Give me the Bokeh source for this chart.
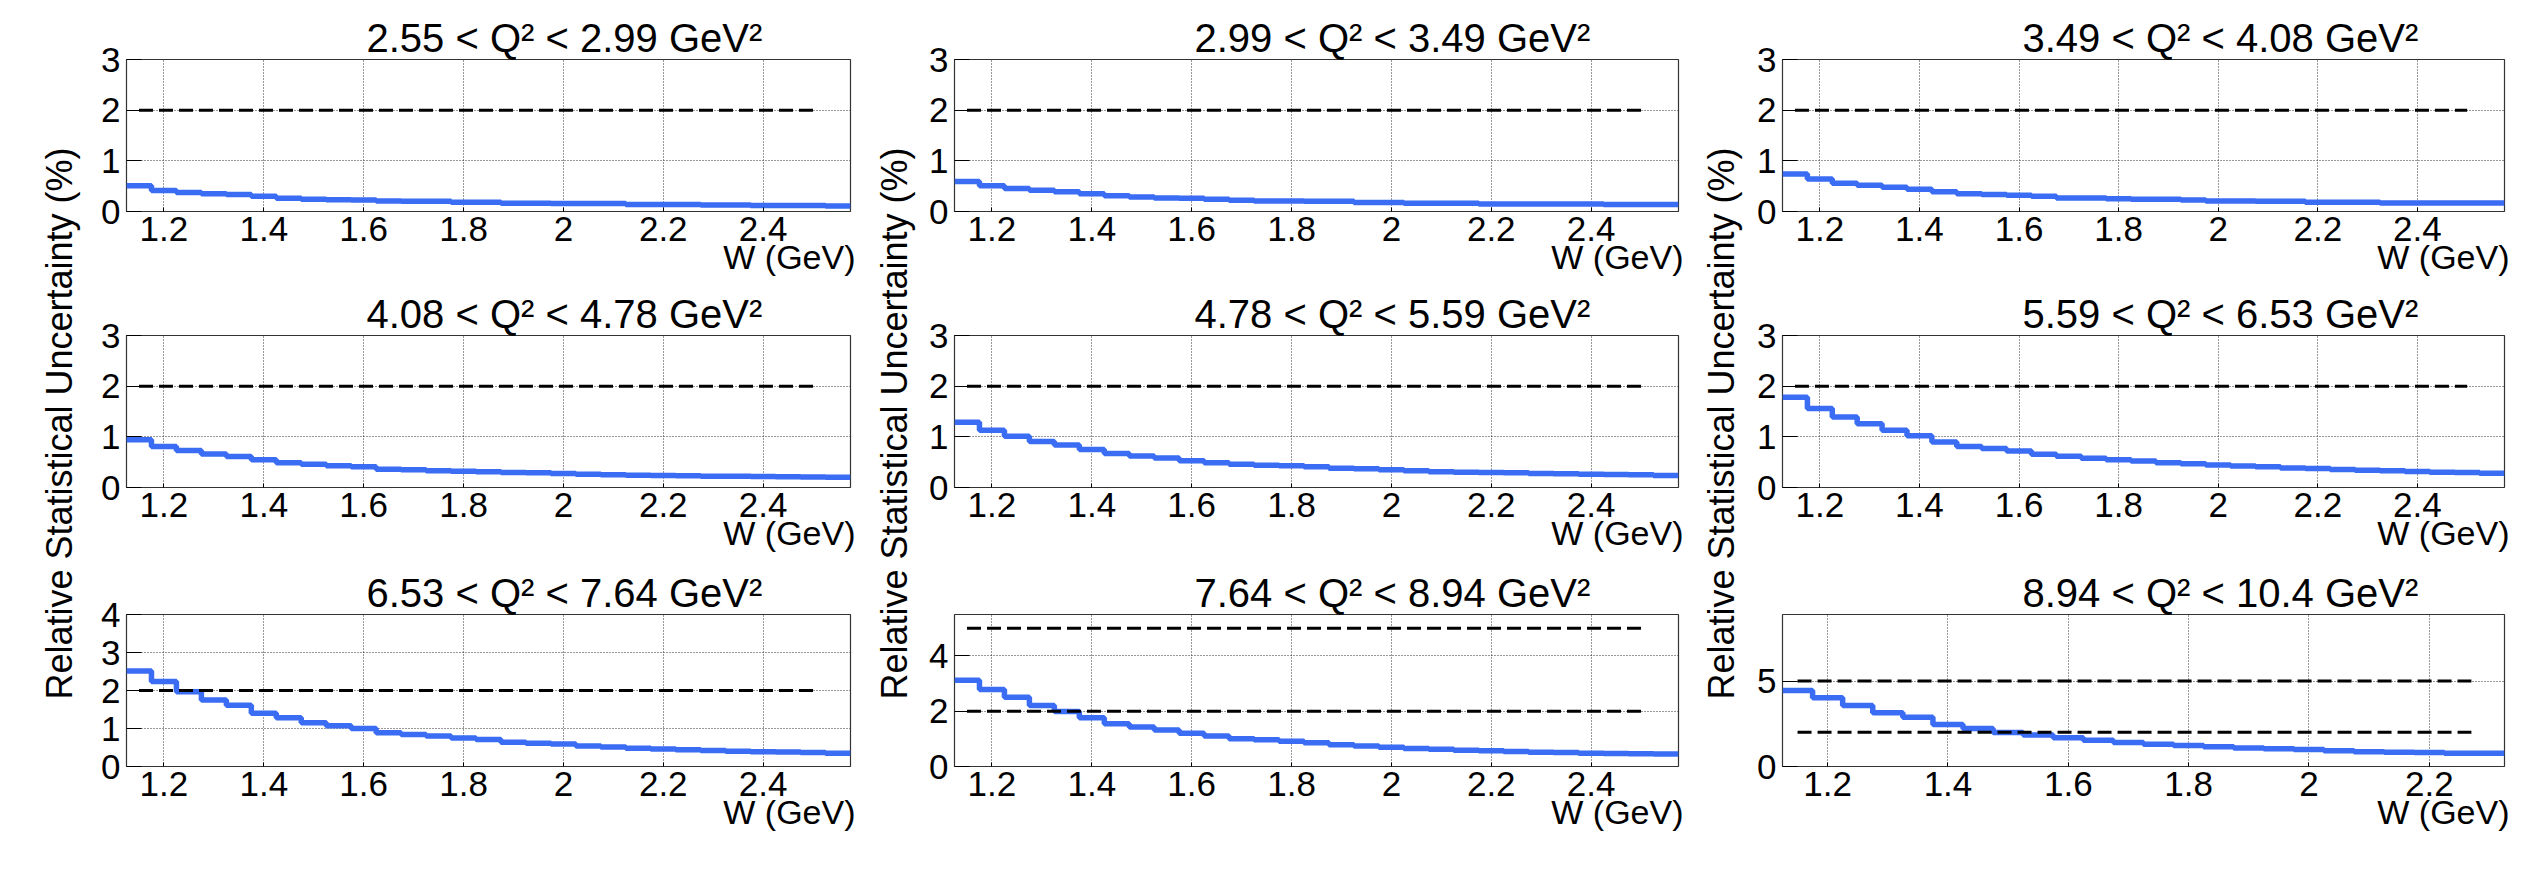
from math import pi
from bokeh.plotting import figure
from bokeh.models import Range1d, FixedTicker, Label, Title
from bokeh.layouts import row, column
from bokeh.embed import file_html
from bokeh.resources import INLINE

# ---------------- data ----------------
W_EDGES = [1.125, 1.175, 1.225, 1.275, 1.325, 1.375, 1.425, 1.475, 1.525, 1.575,
           1.625, 1.675, 1.725, 1.775, 1.825, 1.875, 1.925, 1.975, 2.025, 2.075,
           2.125, 2.175, 2.225, 2.275, 2.325, 2.375, 2.425, 2.475, 2.525, 2.575]

TITLES = ["2.55 < Q\u00b2 < 2.99 GeV\u00b2", "2.99 < Q\u00b2 < 3.49 GeV\u00b2",
          "3.49 < Q\u00b2 < 4.08 GeV\u00b2", "4.08 < Q\u00b2 < 4.78 GeV\u00b2",
          "4.78 < Q\u00b2 < 5.59 GeV\u00b2", "5.59 < Q\u00b2 < 6.53 GeV\u00b2",
          "6.53 < Q\u00b2 < 7.64 GeV\u00b2", "7.64 < Q\u00b2 < 8.94 GeV\u00b2",
          "8.94 < Q\u00b2 < 10.4 GeV\u00b2"]

UNC_1 = [0.51, 0.415, 0.375, 0.35, 0.335, 0.30, 0.26, 0.24, 0.23, 0.225, 0.205, 0.20, 0.20,
         0.185, 0.185, 0.165, 0.165, 0.16, 0.16, 0.16, 0.14, 0.14, 0.14, 0.13, 0.13, 0.12,
         0.12, 0.12, 0.11]
UNC_2 = [0.59, 0.51, 0.455, 0.42, 0.39, 0.35, 0.31, 0.285, 0.265, 0.26, 0.24, 0.22, 0.205,
         0.205, 0.20, 0.20, 0.18, 0.18, 0.165, 0.165, 0.165, 0.15, 0.15, 0.15, 0.15, 0.15,
         0.14, 0.14, 0.14]
UNC_3 = [0.74, 0.64, 0.56, 0.52, 0.48, 0.44, 0.39, 0.35, 0.335, 0.32, 0.30, 0.265, 0.265,
         0.25, 0.24, 0.24, 0.225, 0.205, 0.205, 0.20, 0.20, 0.185, 0.185, 0.185, 0.17, 0.17,
         0.17, 0.17, 0.17]
UNC_4 = [0.94, 0.81, 0.73, 0.66, 0.61, 0.55, 0.49, 0.46, 0.43, 0.41, 0.36, 0.35, 0.33, 0.32,
         0.31, 0.295, 0.29, 0.275, 0.26, 0.25, 0.24, 0.235, 0.23, 0.22, 0.22, 0.215, 0.21,
         0.205, 0.20]
UNC_5 = [1.29, 1.13, 1.01, 0.91, 0.84, 0.75, 0.67, 0.62, 0.58, 0.53, 0.49, 0.46, 0.44, 0.43,
         0.41, 0.38, 0.37, 0.35, 0.33, 0.31, 0.30, 0.295, 0.29, 0.275, 0.27, 0.26, 0.255,
         0.25, 0.235]
UNC_6 = [1.78, 1.56, 1.39, 1.26, 1.13, 1.02, 0.90, 0.81, 0.77, 0.72, 0.655, 0.615, 0.575,
         0.55, 0.525, 0.49, 0.47, 0.445, 0.425, 0.41, 0.385, 0.375, 0.355, 0.34, 0.33, 0.315,
         0.30, 0.295, 0.28]
UNC_7 = [2.51, 2.24, 1.97, 1.75, 1.61, 1.40, 1.28, 1.15, 1.07, 1.00, 0.89, 0.84, 0.80, 0.75,
         0.71, 0.64, 0.61, 0.59, 0.54, 0.51, 0.48, 0.46, 0.44, 0.42, 0.40, 0.39, 0.38, 0.37,
         0.35]
UNC_8 = [3.12, 2.79, 2.51, 2.21, 1.99, 1.76, 1.55, 1.43, 1.32, 1.20, 1.10, 1.00, 0.97, 0.91,
         0.86, 0.79, 0.74, 0.70, 0.65, 0.62, 0.59, 0.57, 0.54, 0.52, 0.51, 0.48, 0.47, 0.46,
         0.45]
UNC_9 = [4.45, 4.02, 3.57, 3.14, 2.89, 2.46, 2.23, 1.99, 1.84, 1.68, 1.54, 1.41, 1.31, 1.23,
         1.15, 1.09, 1.04, 1.00, 0.92, 0.86, 0.84, 0.82, 0.78, 0.78]
UNCS = [UNC_1, UNC_2, UNC_3, UNC_4, UNC_5, UNC_6, UNC_7, UNC_8, UNC_9]

LIMIT_LEVELS = [[2], [2], [2], [2], [2], [2], [2], [2, 5], [2, 5]]
LIMIT_X_START = 1.15
LIMIT_X_END = [2.5, 2.5, 2.5, 2.5, 2.5, 2.5, 2.5, 2.5, 2.27]

Y_MAX = [3, 3, 3, 3, 3, 3, 4, 5.5, 8.9]
Y_TICKS = [[0, 1, 2, 3]] * 6 + [[0, 1, 2, 3, 4], [0, 2, 4], [0, 5]]
X_TICKS_A = [1.2, 1.4, 1.6, 1.8, 2.0, 2.2, 2.4]
X_TICKS_B = [1.2, 1.4, 1.6, 1.8, 2.0, 2.2]
X_TICK_LABELS = {1.2: "1.2", 1.4: "1.4", 1.6: "1.6", 1.8: "1.8", 2.0: "2", 2.2: "2.2", 2.4: "2.4"}

Y_LABEL = "Relative Statistical Uncertainty (%)"
X_LABEL = "W (GeV)"

# ---------------- style / layout ----------------
FONT = "Liberation Sans"
BLUE = "#3b6cf4"

COL_W = [790, 780, 784]
COL_BL = [44, 37, 38]
COL_BR = [22, 19, 24]
ROW_H = [283, 276, 297]
ROW_BT = [59, 52, 55]
ROW_BB = [72, 72, 90]
LAB_W = [82, 45, 47]
LAB_X = [59, 22, 24]
LAB_Y = 433
TITLE_OFFSET = 240


def make_panel(i):
    r, c = divmod(i, 3)
    n = len(UNCS[i])
    x_end = W_EDGES[n]
    p = figure(width=COL_W[c], height=ROW_H[r],
               x_range=Range1d(W_EDGES[0], x_end), y_range=Range1d(0, Y_MAX[i]),
               min_border_left=COL_BL[c], min_border_right=COL_BR[c],
               min_border_top=ROW_BT[r], min_border_bottom=ROW_BB[r],
               output_backend="svg", toolbar_location=None)
    p.title = Title(text=TITLES[i], align="left", offset=TITLE_OFFSET, standoff=0,
                    text_font=FONT, text_font_size="40px", text_font_style="normal",
                    text_color="black")
    p.background_fill_color = "white"
    p.border_fill_color = "white"
    p.outline_line_color = "#333333"
    p.outline_line_width = 1.2

    xt = X_TICKS_B if i == 8 else X_TICKS_A
    p.xaxis.ticker = FixedTicker(ticks=xt)
    p.xaxis.major_label_overrides = {t: X_TICK_LABELS[t] for t in xt}
    p.yaxis.ticker = FixedTicker(ticks=Y_TICKS[i])
    for ax in (p.xaxis[0], p.yaxis[0]):
        ax.axis_line_color = None
        ax.major_tick_out = 0
        ax.minor_tick_in = 0
        ax.minor_tick_out = 0
        ax.major_tick_line_color = "black"
        ax.major_label_text_font = FONT
        ax.major_label_text_font_size = "35px"
        ax.major_label_text_color = "black"
    p.yaxis.major_tick_in = 15
    p.xaxis.major_tick_in = 4
    p.yaxis.major_label_standoff = 6
    p.xaxis.major_label_standoff = 5

    # x-axis title, right-aligned under the tick labels; the negative standoff keeps
    # the bottom border within min_border_bottom so the frame keeps its size
    p.add_layout(Title(text=X_LABEL, align="right", offset=-5, standoff=-12,
                       vertical_align="top",
                       text_font=FONT, text_font_size="34px", text_font_style="normal",
                       text_color="black"), "below")

    for g in (p.xgrid[0], p.ygrid[0]):
        g.grid_line_color = "#333333"
        g.grid_line_dash = "1 2"
        g.grid_line_width = 1

    p.step(x=W_EDGES[:n + 1], y=UNCS[i] + [UNCS[i][-1]], mode="after",
           line_color=BLUE, line_width=5.5)
    for lvl in LIMIT_LEVELS[i]:
        p.line(x=[LIMIT_X_START, LIMIT_X_END[i]], y=[lvl, lvl], line_color="black",
               line_width=3, line_dash="14 6")
    return p


def make_label_fig(c):
    f = figure(width=LAB_W[c], height=sum(ROW_H), title=None,
               x_range=Range1d(0, 1), y_range=Range1d(0, 1),
               x_axis_location=None, y_axis_location=None,
               min_border=0, output_backend="svg", toolbar_location=None)
    f.outline_line_color = None
    f.xgrid.visible = False
    f.ygrid.visible = False
    f.add_layout(Label(x=LAB_X[c], y=LAB_Y, x_units="screen", y_units="screen",
                       text=Y_LABEL, angle=pi / 2, text_font=FONT, text_font_size="36px",
                       text_align="center", text_baseline="middle", text_color="black"))
    return f


panels = [make_panel(i) for i in range(9)]
children = []
for c in range(3):
    children.append(make_label_fig(c))
    children.append(column(panels[c], panels[c + 3], panels[c + 6], spacing=0))
layout = row(*children, spacing=0)

open("out.html", "w").write(file_html(layout, INLINE))
